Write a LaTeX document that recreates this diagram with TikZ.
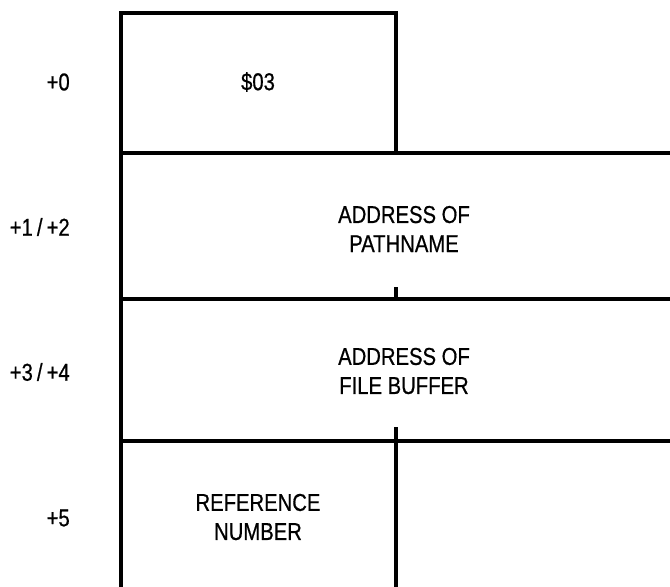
\documentclass[tikz,border=0pt]{standalone}
\usepackage{fontspec}
\setmainfont{Liberation Sans}[FakeStretch=0.83, FakeBold=0.6]
\usepackage{tikz}
\usetikzlibrary{positioning}

\begin{document}
\begin{tikzpicture}[
    x=0.75pt, y=-0.75pt,
    wall/.style={line width=2.5pt, line cap=rect},
    field/.style={align=center, inner sep=0pt, font=\fontsize{18.3}{21.8}\selectfont},
    offs/.style={anchor=east, inner sep=0pt, font=\fontsize{18.3}{21.8}\selectfont}
  ]
    \useasboundingbox (0,0) rectangle (670,586);
    % table lines
    \draw[wall] (396,153) -- (396,13) -- (121,13) -- (121,586);
    \draw[wall] (121,153) -- (670,153);
    \draw[wall] (121,299) -- (670,299);
    \draw[wall] (121,441) -- (670,441);
    \draw[wall] (396,289) -- (396,299);
    \draw[wall] (396,429) -- (396,586);
    % fields
    \node[field] (cmd) at (258,82) {\$03};
    \node[field] (path) at (404,229) {ADDRESS OF\\PATHNAME};
    \node[field] (buf) at (404,371) {ADDRESS OF\\FILE BUFFER};
    \node[field] (ref) at (258,517) {REFERENCE\\NUMBER};
    % offsets
    \node[offs] (o0) at (70,82) {+0};
    \node[offs] (o12) at (70,227) {+1\,/\,+2};
    \node[offs] (o34) at (70,372) {+3\,/\,+4};
    \node[offs] (o5) at (70,518) {+5};
\end{tikzpicture}
\end{document}
